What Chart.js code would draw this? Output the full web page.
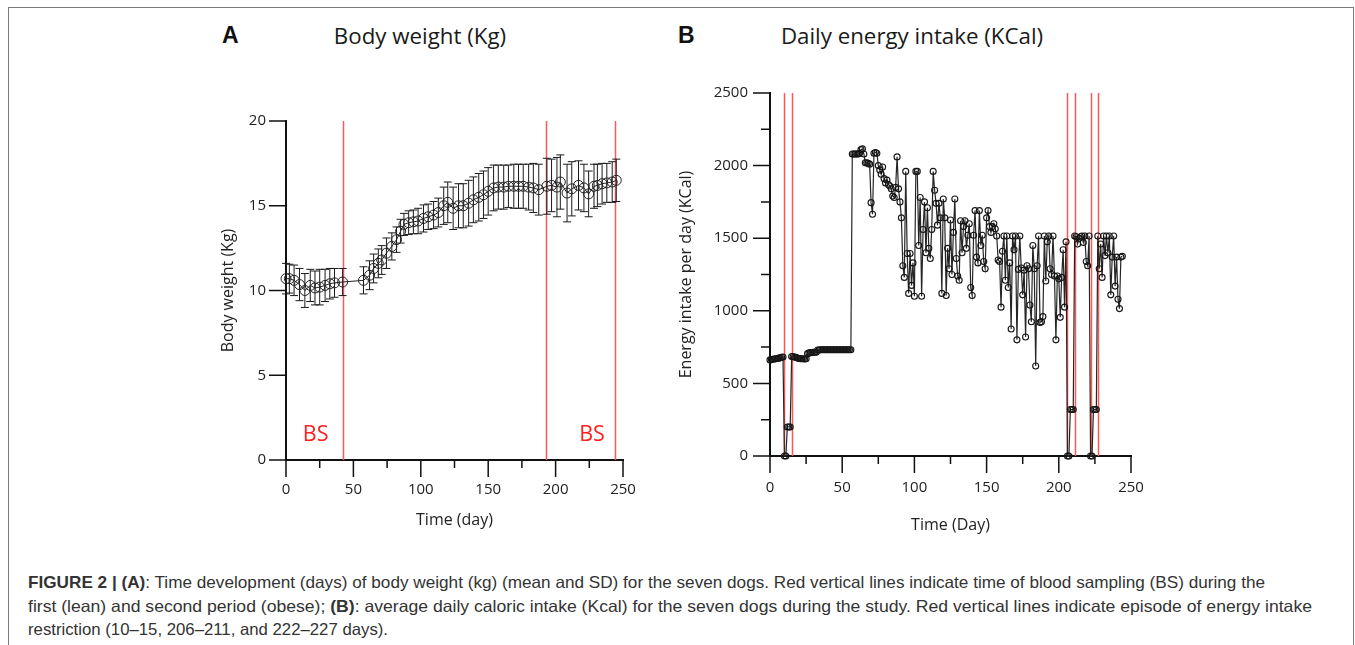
<!DOCTYPE html>
<html>
<head>
<meta charset="utf-8">
<title>Body weight and daily energy intake</title>
<script src="https://cdn.jsdelivr.net/npm/chart.js@4.4.1/dist/chart.umd.min.js"></script>
<style>
  html, body { margin: 0; padding: 0; background: #fff; overflow: hidden; }
  body { width: 1355px; height: 645px; position: relative; font-family: 'Open Sans', sans-serif; }
  .frame { position: absolute; left: 8px; top: 7px; width: 1346px; height: 700px; border: 1.5px solid #7b7b7b; box-sizing: border-box; }
  .letter { position: absolute; top: 22px; font-family: 'Liberation Sans', Arial, sans-serif; font-weight: bold; font-size: 23px; color: #111; }
  .title { position: absolute; top: 21px; font-family: 'Open Sans', sans-serif; font-size: 22.3px; line-height: 30px; color: #1a1a1a; white-space: nowrap; transform: translateX(-50%); }
  .plot { position: absolute; }
  .caption { position: absolute; left: 28px; top: 571px; font-family: 'Liberation Sans', Arial, sans-serif; font-size: 16.5px; line-height: 23.5px; color: #333; white-space: nowrap; margin: 0; }
  .caption span { display: inline-block; transform-origin: 0 50%; }
</style>
</head>
<body>
<div class="frame"></div>

<div class="letter" style="left:222px">A</div>
<div class="title" style="left:420px">Body weight (Kg)</div>
<div class="letter" style="left:678px">B</div>
<div class="title" style="left:912px">Daily energy intake (KCal)</div>

<div class="plot" style="left:200px; top:100px;"><canvas id="weightChart" width="450" height="440"></canvas></div>
<div class="plot" style="left:660px; top:75px;"><canvas id="energyChart" width="500" height="470"></canvas></div>

<p class="caption"><span data-width="1237"><b>FIGURE 2 | (A)</b>: Time development (days) of body weight (kg) (mean and SD) for the seven dogs. Red vertical lines indicate time of blood sampling (BS) during the</span><br><span data-width="1284">first (lean) and second period (obese); <b>(B)</b>: average daily caloric intake (Kcal) for the seven dogs during the study. Red vertical lines indicate episode of energy intake</span><br><span data-width="360">restriction (10–15, 206–211, and 222–227 days).</span></p>

<script>
// ---- BODY WEIGHT (mean and SD, kg) ----
const weightDays = [
  0, 2.5, 6, 10, 14, 18, 21.5, 25, 29, 32.5, 36, 42,
  57.5, 62, 65, 68.5, 71, 74.5, 78.5, 82, 85, 87.5, 91, 94.5, 98, 102, 105.5, 109.5, 113, 117, 120,
  124, 128, 131.5, 135.5, 139, 143, 146.5, 150, 154, 157.5, 161.5, 165, 169, 172.5, 176, 180, 183.5, 187.5,
  193.5, 197, 201, 203.5, 208.5, 212, 217, 221, 224.5, 228.5, 231, 234.5, 238, 242, 245
];
const weightMean = [
  10.7, 10.7, 10.6, 10.35, 10.0, 10.3, 10.15, 10.2, 10.3, 10.4, 10.45, 10.5,
  10.6, 10.9, 11.3, 11.6, 11.8, 12.2, 12.6, 13.0, 13.5, 13.9, 14.0, 14.05, 14.1, 14.25, 14.35, 14.45, 14.6, 15.0, 15.2,
  14.85, 15.0, 15.0, 15.15, 15.35, 15.5, 15.65, 15.85, 16.05, 16.1, 16.1, 16.15, 16.15, 16.15, 16.15, 16.1, 16.05, 15.95,
  16.15, 16.2, 16.1, 16.4, 15.75, 16.0, 16.2, 16.05, 15.7, 16.15, 16.2, 16.3, 16.35, 16.4, 16.5
];
const weightSD = [
  0.9, 0.85, 0.9, 0.95, 1.0, 0.95, 1.0, 1.05, 0.95, 0.9, 0.85, 0.8,
  0.8, 0.85, 0.85, 0.85, 0.85, 0.9, 0.8, 0.75, 0.7, 0.65, 0.7, 0.7, 0.75, 0.8, 0.75, 0.8, 0.85, 1.1, 1.2,
  1.25, 1.3, 1.3, 1.35, 1.35, 1.4, 1.4, 1.4, 1.35, 1.3, 1.3, 1.25, 1.3, 1.3, 1.3, 1.35, 1.45, 1.5,
  1.65, 1.55, 1.75, 1.6, 1.7, 1.6, 1.45, 1.4, 1.35, 1.3, 1.25, 1.2, 1.15, 1.2, 1.25
];
const bloodSamplingDays = [42, 193, 244];

// ---- DAILY ENERGY INTAKE (KCal), one value per day from day 0 ----
const energyKcal = [
  662, 664, 666, 668, 670, 672, 674, 676, 680, 682,            // 0
  0, 0, 200, 200, 200, 685, 684, 682, 680, 675,                // 10
  672, 670, 670, 670, 668, 670, 705, 710, 712, 712,            // 20
  715, 715, 715, 730, 730, 732, 732, 732, 732, 732,            // 30
  732, 732, 732, 732, 732, 732, 732, 732, 732, 732,            // 40
  732, 732, 732, 732, 732, 732, 732, 2080, 2080, 2080,         // 50
  2080, 2080, 2085, 2110, 2115, 2080, 2020, 2020, 2015, 2010,  // 60
  1745, 1665, 2085, 2090, 2085, 2000, 1970, 1940, 1990, 1910,  // 70
  1880, 1900, 1870, 1860, 1840, 1790, 1780, 1850, 2060, 1840,  // 80
  1750, 1640, 1310, 1230, 1960, 1395, 1120, 1395, 1175, 1330,  // 90
  1100, 1960, 1960, 1450, 1780, 1100, 1560, 1750, 1400, 1710,  // 100
  1430, 1360, 1560, 1960, 1830, 1740, 1590, 1740, 1640, 1120,  // 110
  1770, 1640, 1105, 1430, 1290, 1625, 1250, 1540, 1770, 1360,  // 120
  1240, 1210, 1620, 1400, 1580, 1620, 1430, 1520, 1600, 1160,  // 130
  1105, 1520, 1690, 1370, 1330, 1690, 1450, 1520, 1340, 1290,  // 140
  1640, 1690, 1580, 1540, 1580, 1600, 1565, 1515, 1350, 1340,  // 150
  1025, 1410, 1515, 1210, 1515, 1160, 1330, 875, 1515, 1420,   // 160
  1515, 800, 1285, 1515, 1295, 1110, 1280, 820, 1310, 1290,    // 170
  1040, 925, 1450, 1290, 620, 1310, 1515, 920, 925, 960,       // 180
  1515, 1205, 1475, 1515, 1290, 1250, 1515, 1240, 800, 1240,   // 190
  1220, 955, 1230, 1420, 1025, 1475, 0, 0, 320, 320,           // 200
  320, 1515, 1510, 1460, 1500, 1510, 1515, 1470, 1515, 1340,   // 210
  1310, 1515, 0, 0, 320, 320, 320, 1515, 1290, 1460,           // 220
  1230, 1515, 1380, 1515, 1400, 1515, 1110, 1370, 1515, 1170,  // 230
  1370, 1080, 1015, 1370, 1375                                 // 240
];
const restrictionDays = [10, 15, 206, 211, 222, 227];

// ---- AXIS TICKS ----
const dayTicksMajor = [0, 50, 100, 150, 200, 250];
const dayTicksMinor = [25, 75, 125, 175, 225];
const weightTicks = [0, 5, 10, 15, 20];
const energyTicksMajor = [0, 500, 1000, 1500, 2000, 2500];
const energyTicksMinor = [250, 750, 1250, 1750, 2250];

const tickFont = { family: 'Open Sans', size: 15 };
const titleFont = { family: 'Open Sans', size: 16 };
const RED = '#ff5757';
const TICK_LEN = 17;

// outward tick marks, long for labelled values, short in between
function tickMarks(xMajor, xMinor, yMajor, yMinor) {
  return {
    id: 'tickMarks',
    afterDraw(chart) {
      const { ctx, scales: { x, y } } = chart;
      const axisY = y.bottom;
      const axisX = x.left;
      ctx.save();
      ctx.strokeStyle = '#111';
      ctx.lineWidth = 1.5;
      ctx.beginPath();
      xMajor.forEach(v => { const p = x.getPixelForValue(v); ctx.moveTo(p, axisY); ctx.lineTo(p, axisY + TICK_LEN); });
      xMinor.forEach(v => { const p = x.getPixelForValue(v); ctx.moveTo(p, axisY); ctx.lineTo(p, axisY + 8); });
      yMajor.forEach(v => { const p = y.getPixelForValue(v); ctx.moveTo(axisX, p); ctx.lineTo(axisX - TICK_LEN, p); });
      yMinor.forEach(v => { const p = y.getPixelForValue(v); ctx.moveTo(axisX, p); ctx.lineTo(axisX - 9, p); });
      ctx.stroke();
      ctx.restore();
    }
  };
}

// red vertical lines across the full plot height
function redLines(days) {
  return {
    id: 'redLines',
    beforeDatasetsDraw(chart) {
      const { ctx, scales: { x, y } } = chart;
      ctx.save();
      ctx.strokeStyle = RED;
      ctx.lineWidth = 1.5;
      ctx.beginPath();
      days.forEach(d => {
        const p = Math.round(x.getPixelForValue(d)) + 0.5;
        ctx.moveTo(p, y.top);
        ctx.lineTo(p, y.bottom);
      });
      ctx.stroke();
      ctx.restore();
    }
  };
}

// mean +/- SD whiskers with caps
const errorBars = {
  id: 'errorBars',
  beforeDatasetsDraw(chart) {
    const { ctx, scales: { x, y } } = chart;
    ctx.save();
    ctx.strokeStyle = '#1a1a1a';
    ctx.lineWidth = 1;
    ctx.beginPath();
    weightDays.forEach((d, i) => {
      const px = x.getPixelForValue(d);
      const top = y.getPixelForValue(weightMean[i] + weightSD[i]);
      const bot = y.getPixelForValue(weightMean[i] - weightSD[i]);
      ctx.moveTo(px, top); ctx.lineTo(px, bot);
      ctx.moveTo(px - 4, top); ctx.lineTo(px + 4, top);
      ctx.moveTo(px - 4, bot); ctx.lineTo(px + 4, bot);
    });
    ctx.stroke();
    ctx.restore();
  }
};

// "BS" marks for the two sampling periods
const bsLabels = {
  id: 'bsLabels',
  afterDraw(chart) {
    const { ctx, scales: { x, y } } = chart;
    ctx.save();
    ctx.fillStyle = '#ff2020';
    ctx.font = '21.5px "Open Sans"';
    ctx.textAlign = 'center';
    ctx.textBaseline = 'middle';
    [22, 227].forEach(d => ctx.fillText('BS', x.getPixelForValue(d), y.getPixelForValue(1.5)));
    ctx.restore();
  }
};

// axis line only; the tick slot is kept (transparent) so labels sit past the marks
function axis(opts) {
  return Object.assign({
    type: 'linear',
    grid: { display: true, drawOnChartArea: false, drawTicks: true, tickLength: TICK_LEN, tickColor: 'rgba(0,0,0,0)' },
    border: { display: true, color: '#111', width: 2 }
  }, opts);
}

const plainNumber = v => String(v);

// ---- PANEL A ----
new Chart(document.getElementById('weightChart'), {
  type: 'line',
  data: {
    datasets: [{
      data: weightDays.map((d, i) => ({ x: d, y: weightMean[i] })),
      borderColor: '#222',
      borderWidth: 1,
      pointRadius: 5,
      pointBorderWidth: 1,
      pointBorderColor: '#222',
      pointBackgroundColor: 'rgba(255,255,255,0)',
      tension: 0,
      clip: false
    }]
  },
  options: {
    responsive: false,
    animation: false,
    events: [],
    layout: { autoPadding: false, padding: { left: 0, top: 21, right: 27, bottom: 0 } },
    plugins: { legend: { display: false }, tooltip: { enabled: false } },
    scales: {
      x: axis({
        min: 0, max: 250,
        afterBuildTicks: s => { s.ticks = dayTicksMajor.map(v => ({ value: v })); },
        afterFit: s => { s.height = 80; },
        ticks: { padding: 4, color: '#222', font: tickFont, maxRotation: 0, callback: plainNumber },
        title: { display: true, text: 'Time (day)', color: '#222', font: titleFont, padding: { top: 0, bottom: 10.4 } }
      }),
      y: axis({
        min: 0, max: 20,
        afterBuildTicks: s => { s.ticks = weightTicks.map(v => ({ value: v })); },
        afterFit: s => { s.width = 86; },
        ticks: { padding: 3, color: '#222', font: tickFont, callback: plainNumber },
        title: { display: true, text: 'Body weight (Kg)', color: '#222', font: titleFont, padding: { top: 18.4, bottom: 0 } }
      })
    }
  },
  plugins: [redLines(bloodSamplingDays), errorBars, bsLabels, tickMarks(dayTicksMajor, dayTicksMinor, weightTicks, [])]
});

// ---- PANEL B ----
new Chart(document.getElementById('energyChart'), {
  type: 'line',
  data: {
    datasets: [{
      data: energyKcal.map((v, day) => ({ x: day, y: v })),
      borderColor: '#262626',
      borderWidth: 1.2,
      pointRadius: 3,
      pointBorderWidth: 1.1,
      pointBorderColor: '#151515',
      pointBackgroundColor: 'rgba(255,255,255,0)',
      tension: 0,
      clip: false
    }]
  },
  options: {
    responsive: false,
    animation: false,
    events: [],
    layout: { autoPadding: false, padding: { left: 0, top: 18, right: 29, bottom: 0 } },
    plugins: { legend: { display: false }, tooltip: { enabled: false } },
    scales: {
      x: axis({
        min: 0, max: 250,
        afterBuildTicks: s => { s.ticks = dayTicksMajor.map(v => ({ value: v })); },
        afterFit: s => { s.height = 89; },
        ticks: { padding: 6, color: '#222', font: tickFont, maxRotation: 0, callback: plainNumber },
        title: { display: true, text: 'Time (Day)', color: '#222', font: titleFont, padding: { top: 0, bottom: 10.4 } }
      }),
      y: axis({
        min: 0, max: 2500,
        afterBuildTicks: s => { s.ticks = energyTicksMajor.map(v => ({ value: v })); },
        afterFit: s => { s.width = 110; },
        ticks: { padding: 5, color: '#222', font: tickFont, callback: plainNumber },
        title: { display: true, text: 'Energy intake per day (KCal)', color: '#222', font: titleFont, padding: { top: 16.4, bottom: 0 } }
      })
    }
  },
  plugins: [redLines(restrictionDays), tickMarks(dayTicksMajor, dayTicksMinor, energyTicksMajor, energyTicksMinor)]
});

// condense each caption line to its set width
document.querySelectorAll('.caption span[data-width]').forEach(line => {
  const w = line.getBoundingClientRect().width;
  line.style.transform = 'scaleX(' + (Number(line.dataset.width) / w) + ')';
});
</script>
</body>
</html>
